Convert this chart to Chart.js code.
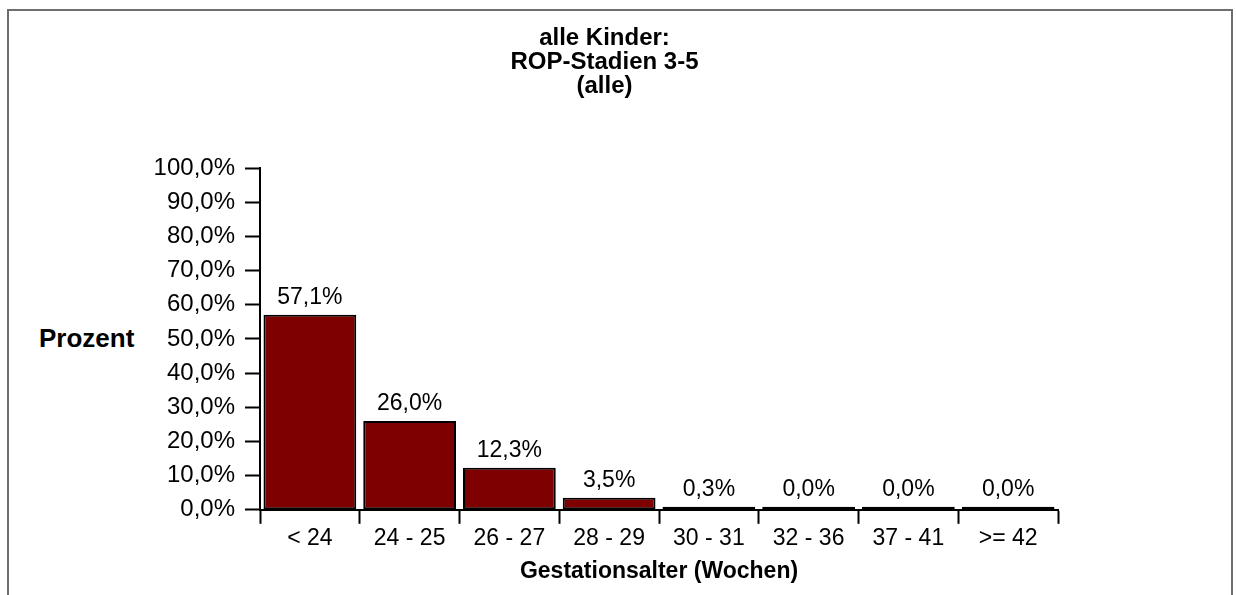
<!DOCTYPE html>
<html>
<head>
<meta charset="utf-8">
<script src="https://cdn.jsdelivr.net/npm/chart.js@4/dist/chart.umd.min.js"></script>
<style>
  html, body { margin: 0; padding: 0; background: #fff; }
  #wrap { position: relative; width: 1236px; height: 595px; overflow: hidden; }
  #frame { position: absolute; left: 7px; top: 9px; width: 1226px; height: 620px;
           border: 2px solid #6e6e6e; box-sizing: border-box; }
  #ylab { position: absolute; left: 39px; top: 323px; font: bold 26px "Liberation Sans", Arial, sans-serif; color: #000; }
  canvas { position: absolute; left: 0; top: 0; }
</style>
</head>
<body>
<div id="wrap">
  <div id="frame"></div>
  <div id="ylab">Prozent</div>
  <canvas id="c" width="1236" height="595"></canvas>
</div>
<script>
const categories = ['< 24', '24 - 25', '26 - 27', '28 - 29', '30 - 31', '32 - 36', '37 - 41', '>= 42'];
const percent = [57.1, 26.0, 12.3, 3.5, 0.3, 0.0, 0.0, 0.0];
const titleLines = ['alle Kinder:', 'ROP-Stadien 3-5', '(alle)'];

const fmt = v => v.toFixed(1).replace('.', ',') + '%';
const font = '"Liberation Sans", Arial, sans-serif';

// values above the bars
const barLabels = {
    id: 'barLabels',
    afterDatasetsDraw(chart) {
        const ctx = chart.ctx;
        const meta = chart.getDatasetMeta(0);
        ctx.save();
        ctx.font = '23px ' + font;
        ctx.fillStyle = '#000';
        ctx.textAlign = 'center';
        ctx.textBaseline = 'alphabetic';
        meta.data.forEach((bar, i) => {
            ctx.fillText(fmt(percent[i]), bar.x, bar.y - 11);
        });
        ctx.restore();
    }
};

new Chart(document.getElementById('c'), {
    type: 'bar',
    data: {
        labels: categories,
        datasets: [{
            data: percent,
            backgroundColor: '#7f0000',
            borderColor: '#000',
            borderWidth: 2,
            borderSkipped: false,
            minBarLength: 3,
            barPercentage: 0.93,
            categoryPercentage: 1
        }]
    },
    options: {
        responsive: false,
        animation: false,
        layout: { padding: { left: 151, right: 178, top: 0, bottom: 0 } },
        plugins: {
            legend: { display: false },
            tooltip: { enabled: false },
            title: {
                display: true,
                text: titleLines,
                color: '#000',
                font: { family: font, size: 24, weight: 'bold', lineHeight: 1.0 },
                padding: { top: 26, bottom: 70 }
            }
        },
        scales: {
            x: {
                grid: { drawOnChartArea: false, tickLength: 14, tickColor: '#000', tickWidth: 2, offset: true },
                border: { color: '#000', width: 2 },
                ticks: { color: '#000', font: { family: font, size: 23 }, padding: 1, maxRotation: 0 },
                title: {
                    display: true,
                    text: 'Gestationsalter (Wochen)',
                    color: '#000',
                    font: { family: font, size: 23, weight: 'bold' },
                    padding: { top: 4, bottom: 10 }
                }
            },
            y: {
                min: 0,
                max: 100,
                afterFit(scale) { scale.width = 109; },
                grid: { drawOnChartArea: false, tickLength: 15, tickColor: '#000', tickWidth: 2 },
                border: { color: '#000', width: 2 },
                ticks: {
                    stepSize: 10,
                    color: '#000',
                    font: { family: font, size: 24 },
                    padding: 10,
                    callback: v => fmt(v)
                }
            }
        }
    },
    plugins: [barLabels]
});
</script>
</body>
</html>
